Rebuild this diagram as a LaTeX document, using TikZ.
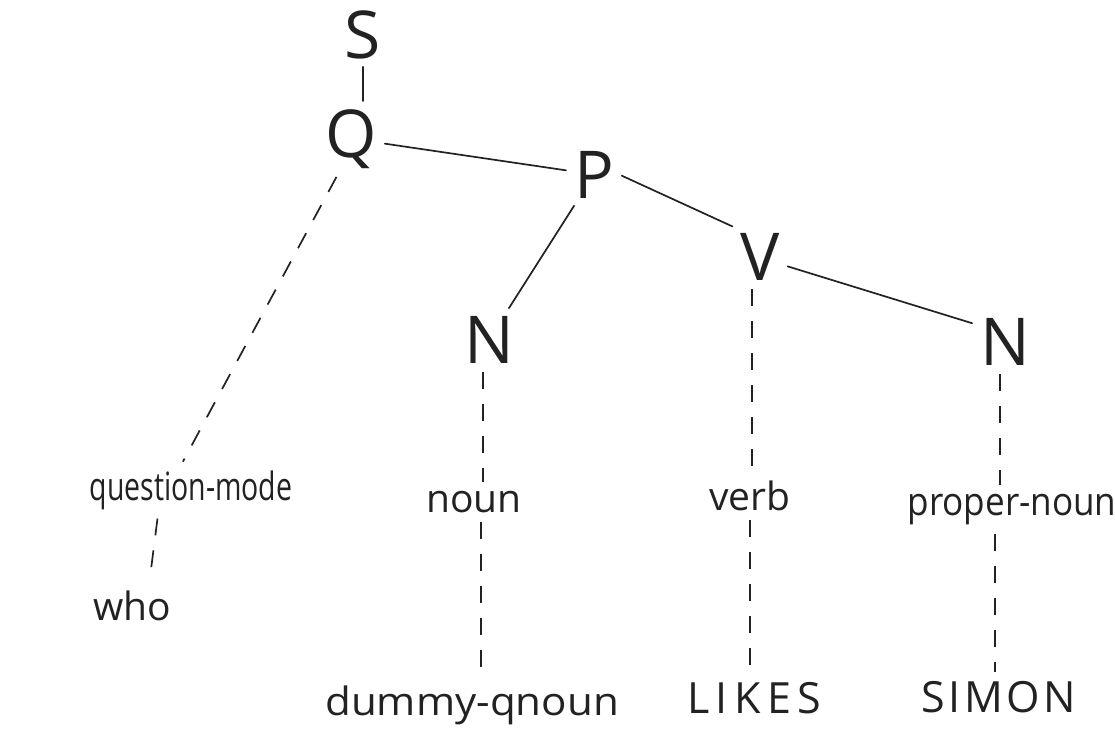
\documentclass[tikz,border=0pt]{standalone}
\usepackage{fontspec}
\setmainfont{Open Sans}
\usetikzlibrary{calc}
\definecolor{ink}{HTML}{222222}
\begin{document}
\begin{tikzpicture}[x=1pt,y=-1pt,
  cat/.style={font=\fontsize{66}{70}\selectfont, text=ink, inner sep=5pt, anchor=base},
  word/.style={font=\fontsize{39}{43}\selectfont, text=ink, inner sep=5pt, anchor=base},
  caps/.style={font=\fontsize{43}{48}\selectfont, text=ink, inner sep=5pt, anchor=base},
  branch/.style={draw=ink, line width=1.7pt, line cap=round, shorten <=3pt, shorten >=3pt},
  link/.style={draw=ink, line width=1.7pt, dash pattern=on 17pt off 15pt, shorten <=4pt, shorten >=4pt},
]
\useasboundingbox (0,0) rectangle (1115,732);
\fill[white] (0,0) rectangle (1115,732);

% category labels of the tree
\node[cat] (S)  at (363,58)  {S};
\node[cat] (Q)  at (351,157) {Q};
\node[cat] (P)  at (594,198) {P};
\node[cat] (N1) at (489,363) {N};
\node[cat] (V)  at (760,280) {V};
\node[cat] (N2) at (1005,365) {N};

% lexical categories
\node[word] (qm)   at (191,500)  {\scalebox{0.73}[1]{question-mode}};
\node[word] (noun) at (474,512)  {noun};
\node[word] (verb) at (750,510)  {verb};
\node[word] (pn)   at (1012,515) {\scalebox{0.9}[1]{proper-noun}};

% words
\node[word] (who) at (132,620) {who};
\node[word] (dq)  at (472,715) {\scalebox{1.08}[1]{dummy-qnoun}};
\node[caps] (likes) at (754,713) {\addfontfeature{LetterSpace=15}LIKES};
\node[caps] (simon) at (999,712) {\addfontfeature{LetterSpace=8}SIMON};

% solid branches
\draw[branch] (S.south) -- (S.south |- Q.north);
\draw[branch] (Q) -- (P);
\draw[branch] (P) -- (N1);
\draw[branch] (P.east) -- (V.north west);
\draw[branch] (V.-20) -- (N2.150);

% dashed links to lexical categories and words
\draw[link] (Q.250) -- ($(qm.north)+(-10,0)$);
\draw[link] ($(qm.south)+(-33,0)$) -- ($(who.north)+(17,0)$);
\draw[link] ($(N1.south)+(-6,0)$) -- ($(N1.south |- noun.north)+(-6,0)$);
\draw[link] ($(noun.south)+(7,0)$) -- ($(noun.south |- dq.north)+(7,0)$);
\draw[link] ($(V.south)+(-8,0)$) -- ($(V.south |- verb.north)+(-8,0)$);
\draw[link] (verb.south) -- (verb.south |- likes.north);
\draw[link] ($(N2.south)+(-5,0)$) -- ($(N2.south |- pn.north)+(-5,0)$);
\draw[link] ($(pn.south)+(-17,0)$) -- ($(pn.south |- simon.north)+(-17,0)$);
\end{tikzpicture}
\end{document}
